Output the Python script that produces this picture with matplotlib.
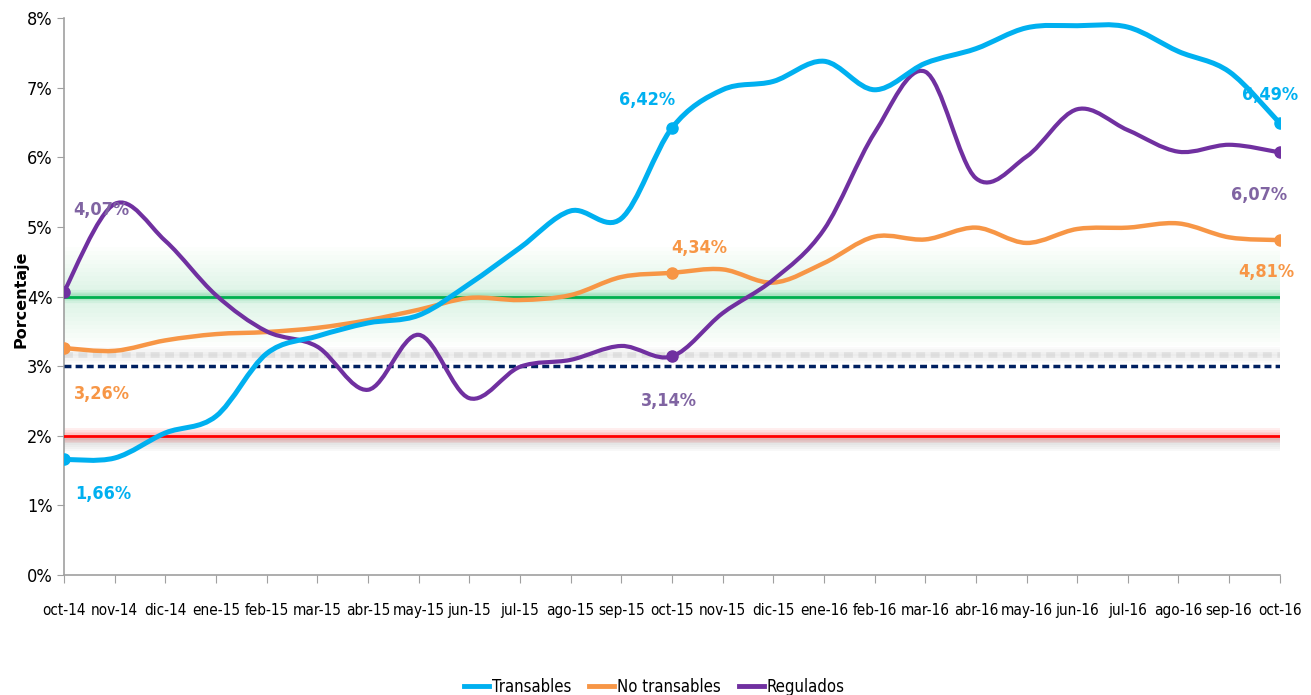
import numpy as np
import matplotlib
matplotlib.use("Agg")
import matplotlib.pyplot as plt
from matplotlib.path import Path
from matplotlib.patches import PathPatch
from matplotlib.lines import Line2D

# monthly labels
meses = ['oct-14', 'nov-14', 'dic-14', 'ene-15', 'feb-15', 'mar-15', 'abr-15', 'may-15',
         'jun-15', 'jul-15', 'ago-15', 'sep-15', 'oct-15', 'nov-15', 'dic-15', 'ene-16',
         'feb-16', 'mar-16', 'abr-16', 'may-16', 'jun-16', 'jul-16', 'ago-16', 'sep-16', 'oct-16']

transables = [1.66, 1.68, 2.04, 2.28, 3.18, 3.43, 3.62, 3.73, 4.18, 4.70, 5.23, 5.12, 6.42,
              6.97, 7.09, 7.38, 6.97, 7.35, 7.56, 7.86, 7.89, 7.87, 7.52, 7.23, 6.49]
no_transables = [3.26, 3.22, 3.37, 3.46, 3.49, 3.55, 3.66, 3.81, 3.98, 3.95, 4.02, 4.28, 4.34,
                 4.39, 4.20, 4.48, 4.86, 4.82, 4.99, 4.77, 4.97, 4.99, 5.05, 4.85, 4.81]
regulados = [4.07, 5.33, 4.80, 4.02, 3.50, 3.28, 2.66, 3.45, 2.54, 2.99, 3.09, 3.29, 3.14,
             3.76, 4.24, 4.96, 6.35, 7.23, 5.70, 6.01, 6.69, 6.39, 6.08, 6.18, 6.07]

meta = 3.0
rango_sup = 4.0
rango_inf = 2.0

C_TRANS = '#00B0F0'
C_NOTRANS = '#F79646'
C_REG = '#7030A0'
C_REG_TXT = '#8064A2'

plt.rcParams['font.family'] = ['DejaVu Sans']
plt.rcParams['font.stretch'] = 'condensed'


# excel-like smoothed line: catmull-rom turned into bezier segments
def smooth_path(x, y):
    pts = np.column_stack([x, y])
    n = len(pts)
    verts = [pts[0]]
    codes = [Path.MOVETO]
    for i in range(n - 1):
        p0 = pts[i - 1] if i > 0 else pts[i]
        p1 = pts[i]
        p2 = pts[i + 1]
        p3 = pts[i + 2] if i + 2 < n else pts[i + 1]
        c1 = p1 + (p2 - p0) / 6.0
        c2 = p2 - (p3 - p1) / 6.0
        verts += [c1, c2, p2]
        codes += [Path.CURVE4] * 3
    return Path(verts, codes)


fig = plt.figure(figsize=(13.11, 6.95), dpi=100)
ax = fig.add_axes([0.0488, 0.1727, 0.9274, 0.8013])

x = np.arange(len(meses))
xmax = len(meses) - 1

# glow bands around reference lines
for k in range(12):
    d = 0.05 + k * 0.06
    ax.fill_between([0, xmax], rango_sup - d, rango_sup + d, color='#00B050', alpha=0.012, lw=0)
for k in range(5):
    d = 0.01 + k * 0.02
    ax.fill_between([0, xmax], rango_sup - d, rango_sup + d, color='#00B050', alpha=0.06, lw=0)
for k in range(6):
    ax.fill_between([0, xmax], rango_inf - 0.22 + k * 0.03, rango_inf - 0.03, color='#909090', alpha=0.06, lw=0)
for k in range(5):
    d = 0.01 + k * 0.025
    ax.fill_between([0, xmax], rango_inf - d, rango_inf + d, color='#FF3030', alpha=0.08, lw=0)
for k in range(4):
    d = 0.02 + k * 0.03
    ax.fill_between([0, xmax], meta + 0.16 - d, meta + 0.16 + d, color='#BBBBBB', alpha=0.07, lw=0)
ax.plot([0, xmax], [meta + 0.16, meta + 0.16], color='#C8C8C8', lw=4, ls=(0, (1.6, 1.0)), alpha=0.4)

ax.plot([0, xmax], [rango_sup, rango_sup], color='#00B050', lw=2, zorder=3)
ax.plot([0, xmax], [rango_inf, rango_inf], color='#FF0000', lw=2, zorder=3)
ax.plot([0, xmax], [meta, meta], color='#002060', lw=2.5, ls=(0, (2, 1.2)), zorder=3)

for serie, col, lw in [(no_transables, C_NOTRANS, 3.2), (regulados, C_REG, 3.0), (transables, C_TRANS, 3.6)]:
    ax.add_patch(PathPatch(smooth_path(x, serie), facecolor='none', edgecolor=col, lw=lw,
                           capstyle='round', zorder=4))
    for i in [0, 12, xmax]:
        ax.plot(x[i], serie[i], 'o', color=col, ms=8, zorder=5)

# data labels
etiquetas = [
    (0, transables, C_TRANS, (28, -25)),
    (0, no_transables, C_NOTRANS, (27, -33)),
    (0, regulados, C_REG_TXT, (27, 59)),
    (12, transables, C_TRANS, (-18, 20)),
    (12, no_transables, C_NOTRANS, (20, 18)),
    (12, regulados, C_REG_TXT, (-2, -32)),
    (xmax, transables, C_TRANS, (-7, 20)),
    (xmax, regulados, C_REG_TXT, (-15, -31)),
    (xmax, no_transables, C_NOTRANS, (-10, -23)),
]
for i, serie, col, off in etiquetas:
    ax.annotate(('%.2f%%' % serie[i]).replace('.', ','), (x[i], serie[i]), xytext=off,
                textcoords='offset points', ha='center', va='center', color=col,
                fontsize=13, fontweight='bold', zorder=6)

ax.set_xlim(0, xmax)
ax.set_ylim(0, 8)
ax.set_xticks(x)
ax.set_xticklabels(meses, fontsize=11)
ax.set_yticks(range(9))
ax.set_yticklabels(['%d%%' % v for v in range(9)], fontsize=13)
ax.tick_params(axis='x', direction='out', length=6, color='#A0A0A0', pad=14)
ax.tick_params(axis='y', direction='out', length=5, color='#A0A0A0', pad=3)
for s in ['top', 'right']:
    ax.spines[s].set_visible(False)
for s in ['left', 'bottom']:
    ax.spines[s].set_color('#A0A0A0')
    ax.spines[s].set_linewidth(1.2)

fig.text(0.016, 0.57, 'Porcentaje', rotation=90, ha='center', va='center',
         fontsize=11.5, fontweight='bold', stretch='normal')

handles = [Line2D([], [], color=C_TRANS, lw=3.5),
           Line2D([], [], color=C_NOTRANS, lw=3.5),
           Line2D([], [], color=C_REG, lw=3.5)]
fig.legend(handles, ['Transables', 'No transables', 'Regulados'], loc='center',
           bbox_to_anchor=(0.499, 0.012), ncol=3, frameon=False, fontsize=12,
           handlelength=1.5, handletextpad=0.15, columnspacing=1.1)

fig.savefig('out.png', dpi=100)
